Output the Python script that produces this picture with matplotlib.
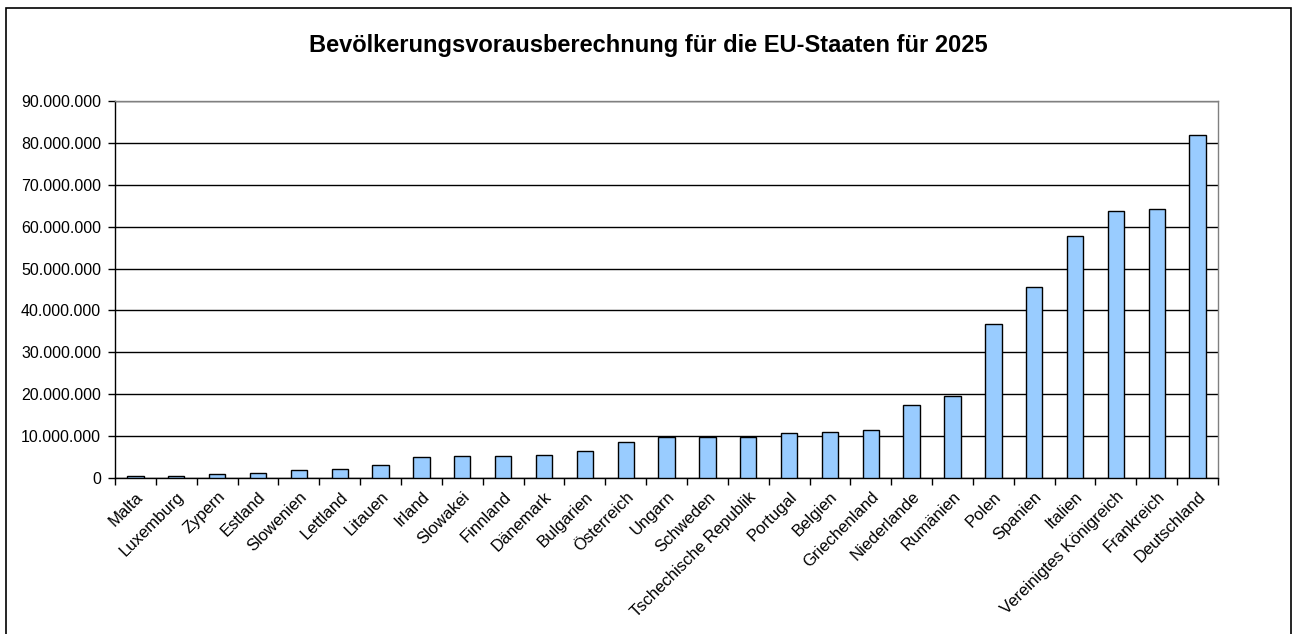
import numpy as np
import matplotlib.pyplot as plt
from matplotlib.patches import Rectangle
from matplotlib.ticker import FuncFormatter, FixedLocator

plt.rcParams['font.family'] = ['Liberation Sans', 'DejaVu Sans']

# Bevoelkerung 2025 (Vorausberechnung), aufsteigend sortiert
laender = ["Malta", "Luxemburg", "Zypern", "Estland", "Slowenien", "Lettland",
           "Litauen", "Irland", "Slowakei", "Finnland", "Dänemark", "Bulgarien",
           "Österreich", "Ungarn", "Schweden", "Tschechische Republik", "Portugal",
           "Belgien", "Griechenland", "Niederlande", "Rumänien", "Polen", "Spanien",
           "Italien", "Vereinigtes Königreich", "Frankreich", "Deutschland"]
einwohner = [430000, 480000, 1000000, 1250000, 2000000, 2200000,
             3200000, 4900000, 5350000, 5350000, 5600000, 6500000,
             8500000, 9750000, 9750000, 9800000, 10700000,
             10900000, 11350000, 17450000, 19600000, 36800000, 45500000,
             57700000, 63700000, 64300000, 82000000]

fig = plt.figure(figsize=(12.97, 6.34), dpi=100)
ax = fig.add_axes([0.0887, 0.2461, 0.8504, 0.5946])

x = np.arange(len(laender))
ax.bar(x, einwohner, width=0.4, color="#99CCFF", edgecolor="black",
       linewidth=1.0, zorder=3)

ax.set_xlim(-0.5, len(laender) - 0.5)
ax.set_ylim(0, 90000000)
ax.set_yticks(np.arange(0, 90000001, 10000000))
ax.yaxis.set_major_formatter(FuncFormatter(lambda v, p: f"{int(v):,}".replace(",", ".")))
ax.grid(axis="y", color="black", linewidth=1.0, zorder=1)

# Striche zwischen den Kategorien, Beschriftung in der Mitte
ax.xaxis.set_major_locator(FixedLocator(np.arange(-0.5, len(laender), 1.0)))
ax.xaxis.set_major_formatter(FuncFormatter(lambda v, p: ""))
ax.set_xticks(x, minor=True)
ax.set_xticklabels(laender, minor=True, rotation=45, ha="right", va="top",
                   rotation_mode="anchor", fontsize=12)
ax.tick_params(axis="x", which="minor", length=0, pad=8)
ax.tick_params(axis="x", which="major", length=5, direction="out", width=1)
ax.tick_params(axis="y", length=5, direction="out", width=1, labelsize=11.5, pad=5)

for s in ["left", "bottom"]:
    ax.spines[s].set_color("black")
    ax.spines[s].set_linewidth(1.0)
for s in ["top", "right"]:
    ax.spines[s].set_color("#808080")
    ax.spines[s].set_linewidth(1.0)

fig.text(0.5, 0.928, "Bevölkerungsvorausberechnung für die EU-Staaten für 2025",
         ha="center", va="center", fontsize=17, fontweight="bold")

# Rahmen um das Diagramm
fig.patches.append(Rectangle((6 / 1297, -0.02), 1285 / 1297, 1.02 - 8 / 634,
                             transform=fig.transFigure, fill=False,
                             edgecolor="black", linewidth=1.2))

fig.savefig("out.png", dpi=100)
